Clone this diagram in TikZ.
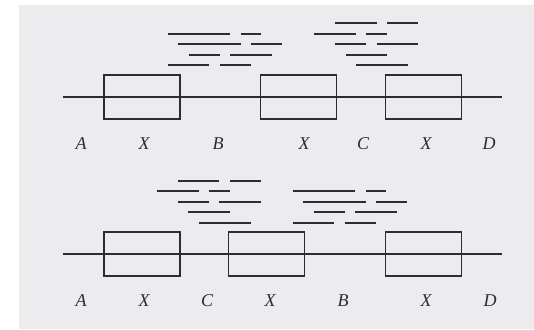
\documentclass[tikz,border=0pt]{standalone}
\usepackage{fontspec}
\setmainfont{Liberation Serif}
\definecolor{pagegray}{RGB}{236,236,238}
\definecolor{ink}{RGB}{45,45,48}
\newcommand{\fragseg}[4]{\draw[fragline] ({#1+#3*10.4},#2) -- ({#1+#4*10.4},#2);}
\begin{document}
\begin{tikzpicture}[x=1pt,y=-1pt,
  fragline/.style={draw=ink, line width=1.9pt},
  dnaline/.style={draw=ink, line width=1.8pt},
  clonebox/.style={draw=ink, line width=1.5pt, rectangle, minimum width=76pt, minimum height=44pt, inner sep=0pt},
  lab/.style={text=ink, font=\itshape\fontsize{18}{18}\selectfont, inner sep=0pt}]
\useasboundingbox (0,0) rectangle (534,329);
\fill[white] (0,0) rectangle (534,329);
\fill[pagegray] (19,5) rectangle (534,329);

% ---- top row ----
\coordinate (ts) at (63,97);
\coordinate (te) at (502,97);
\draw[dnaline] (ts) -- (te);
\node[clonebox] (tb1) at (142,97) {};
\node[clonebox] (tb2) at (298.5,97) {};
\node[clonebox] (tb3) at (423.5,97) {};
% fragments B (top)
\fragseg{167.7}{34}{0}{6}\fragseg{167.7}{34}{7}{9}
\fragseg{167.7}{44.4}{1}{7}\fragseg{167.7}{44.4}{8}{11}
\fragseg{167.7}{54.7}{2}{5}\fragseg{167.7}{54.7}{6}{10}
\fragseg{167.7}{65}{0}{4}\fragseg{167.7}{65}{5}{8}
% fragments C (top)
\fragseg{314.3}{23.4}{2}{6}\fragseg{314.3}{23.4}{7}{10}
\fragseg{314.3}{34}{0}{4}\fragseg{314.3}{34}{5}{7}
\fragseg{314.3}{44.4}{2}{5}\fragseg{314.3}{44.4}{6}{10}
\fragseg{314.3}{54.6}{3}{7}
\fragseg{314.3}{65}{4}{9}
% labels
\node[lab] (tA) at (81,144) {A};
\node[lab] (tX1) at (144,144) {X};
\node[lab] (tB) at (218,144) {B};
\node[lab] (tX2) at (304,144) {X};
\node[lab] (tC) at (363,144) {C};
\node[lab] (tX3) at (426,144) {X};
\node[lab] (tD) at (489,144) {D};

% ---- bottom row ----
\coordinate (bs) at (63,254);
\coordinate (be) at (502,254);
\draw[dnaline] (bs) -- (be);
\node[clonebox] (bb1) at (142,254) {};
\node[clonebox] (bb2) at (266.5,254) {};
\node[clonebox] (bb3) at (423.5,254) {};
% fragments C (bottom)
\fragseg{157}{180.7}{2}{6}\fragseg{157}{180.7}{7}{10}
\fragseg{157}{191.2}{0}{4}\fragseg{157}{191.2}{5}{7}
\fragseg{157}{201.8}{2}{5}\fragseg{157}{201.8}{6}{10}
\fragseg{157}{212.3}{3}{7}
\fragseg{157}{222.7}{4}{9}
% fragments B (bottom)
\fragseg{292.7}{191.2}{0}{6}\fragseg{292.7}{191.2}{7}{9}
\fragseg{292.7}{201.8}{1}{7}\fragseg{292.7}{201.8}{8}{11}
\fragseg{292.7}{212.3}{2}{5}\fragseg{292.7}{212.3}{6}{10}
\fragseg{292.7}{222.7}{0}{4}\fragseg{292.7}{222.7}{5}{8}
% labels
\node[lab] (bA) at (81,301) {A};
\node[lab] (bX1) at (144,301) {X};
\node[lab] (bC) at (207,301) {C};
\node[lab] (bX2) at (270,301) {X};
\node[lab] (bB) at (343,301) {B};
\node[lab] (bX3) at (426,301) {X};
\node[lab] (bD) at (490,301) {D};
\end{tikzpicture}
\end{document}
